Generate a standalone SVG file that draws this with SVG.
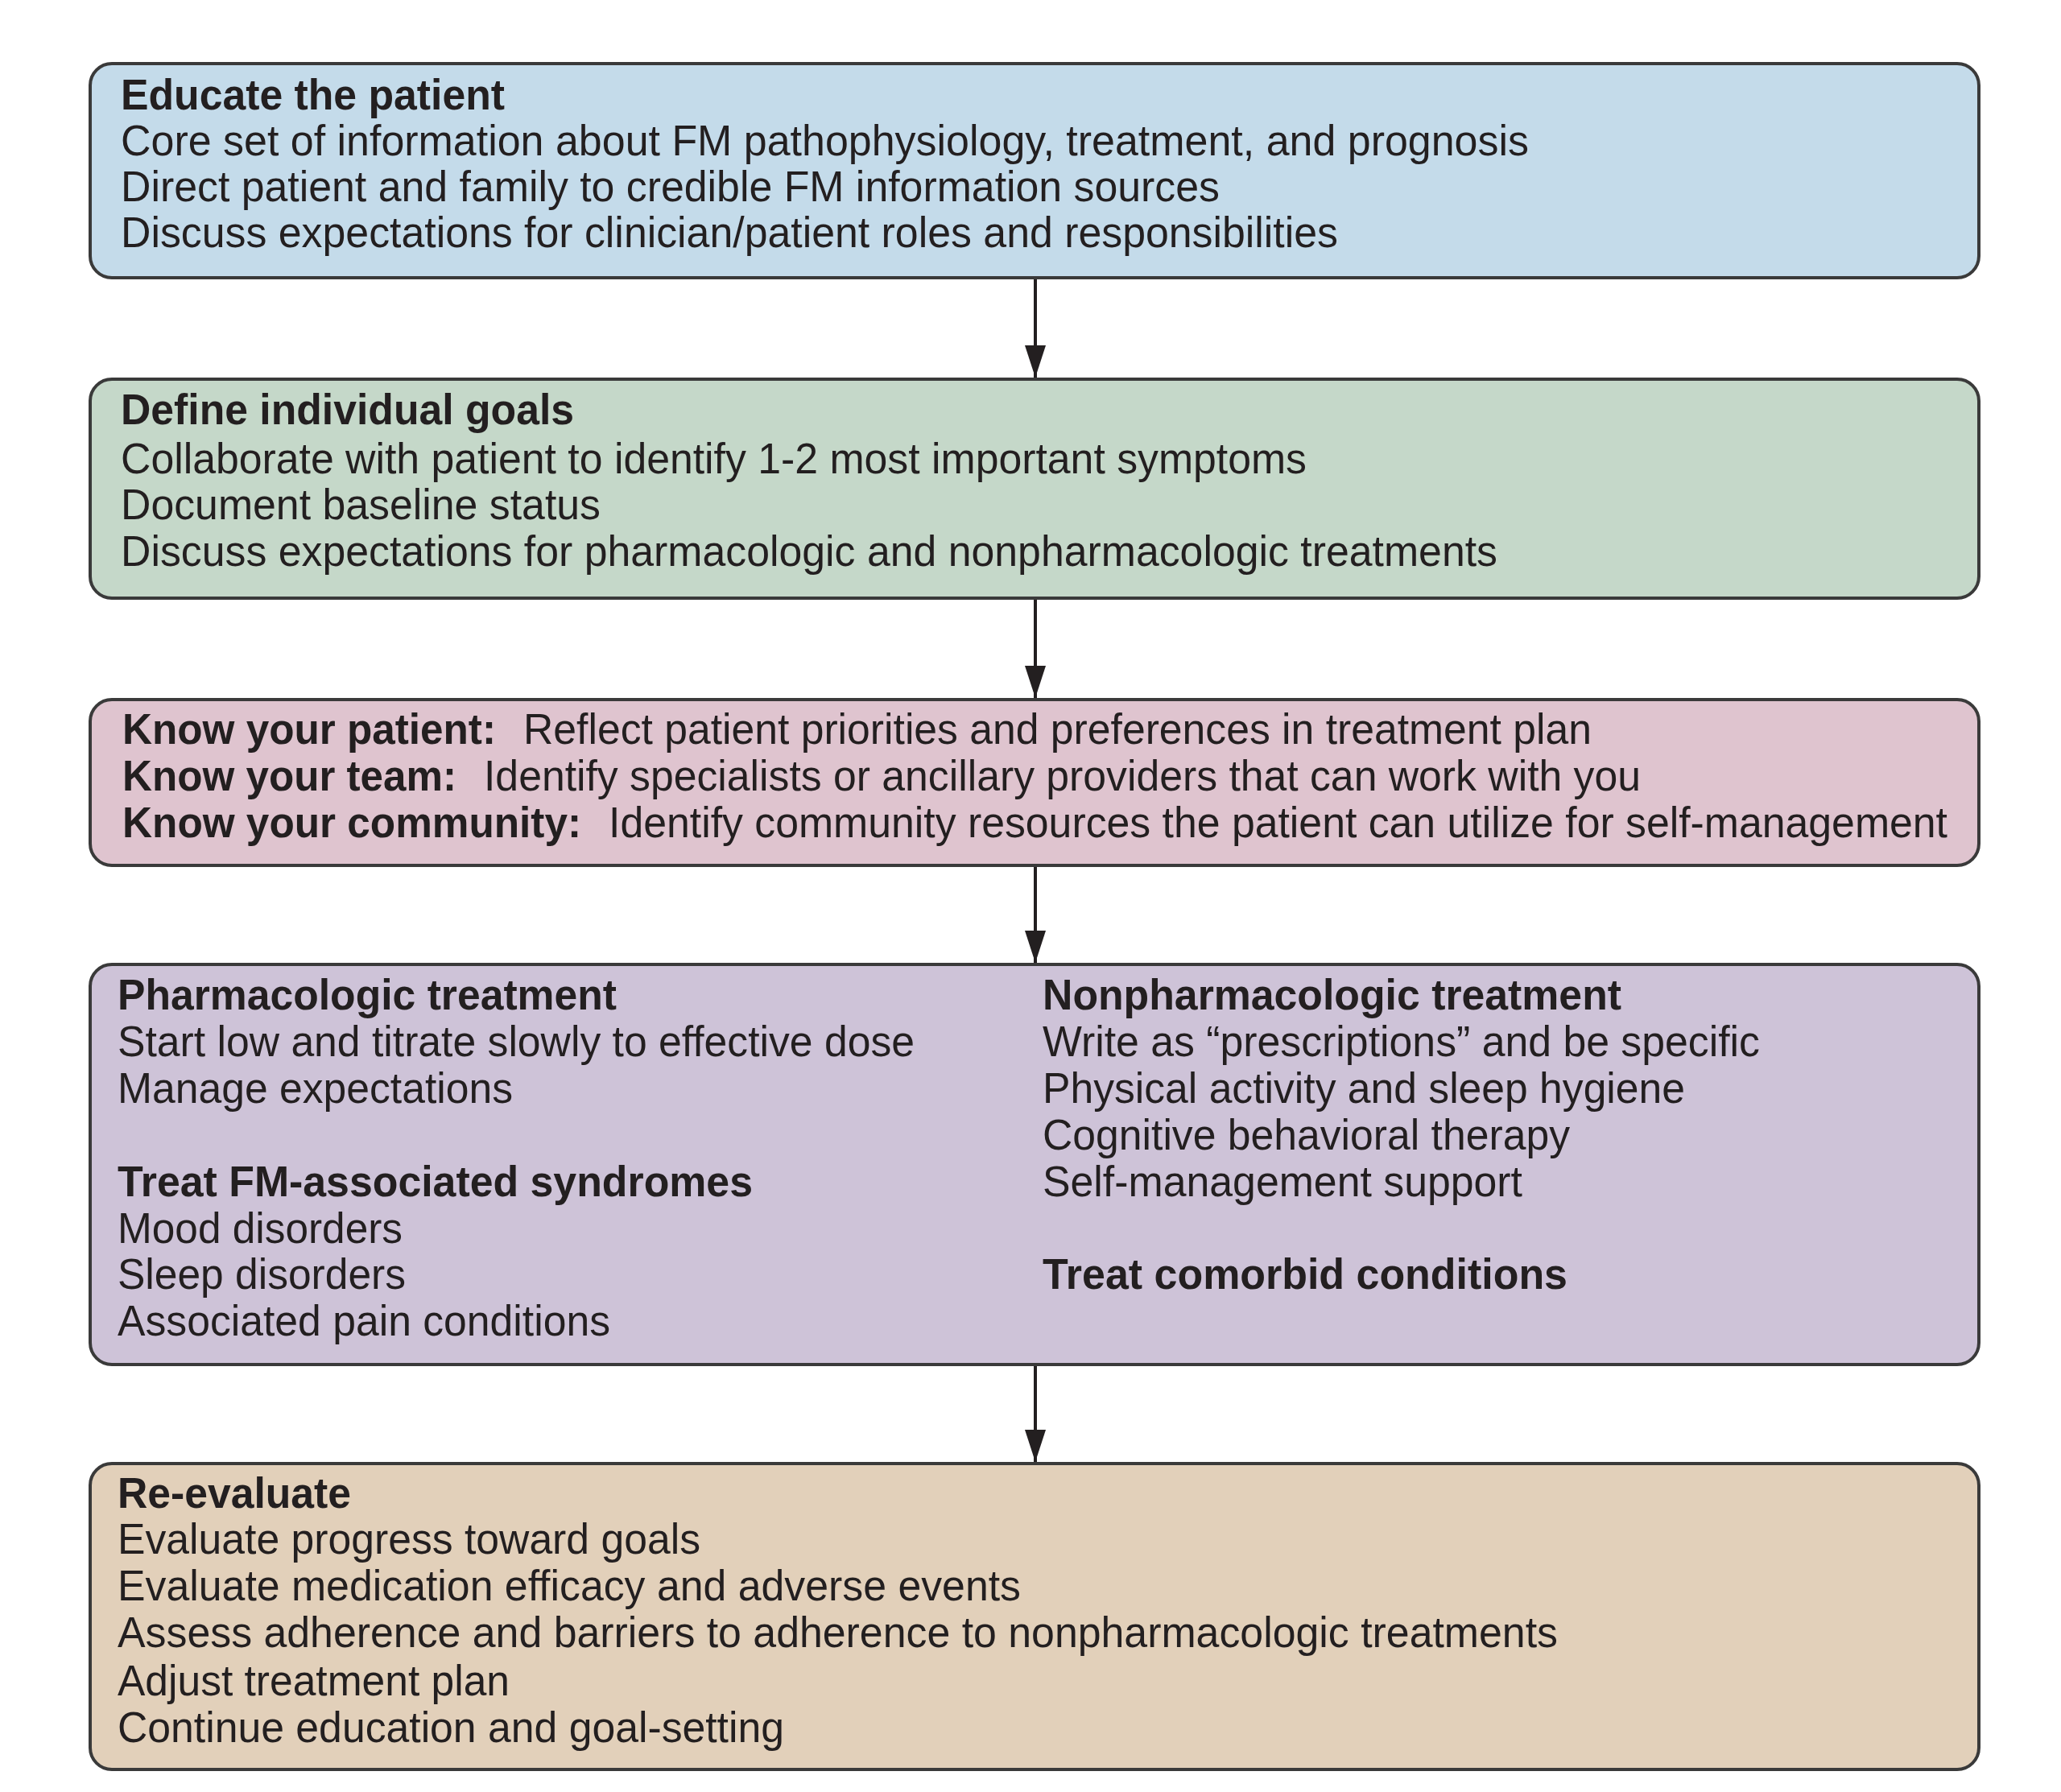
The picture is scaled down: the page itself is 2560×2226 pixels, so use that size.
<svg xmlns="http://www.w3.org/2000/svg" width="2560" height="2226" viewBox="0 0 2560 2226">
<style>
.box{stroke:#3a3a3a;stroke-width:4}
.t{font-family:"Liberation Sans",Arial,sans-serif;font-size:54px;fill:#231f20}
.b{font-weight:bold}
.conn{stroke:#231f20;stroke-width:4;fill:none}
</style>
<defs>
<marker id="ah" viewBox="0 0 40 26" refX="40" refY="13" markerWidth="40" markerHeight="26" markerUnits="userSpaceOnUse" orient="auto">
<path d="M0,0 L40,13 L0,26 z" fill="#231f20"/>
</marker>
</defs>
<rect width="2560" height="2226" fill="#ffffff"/>
<g id="connectors">
<line class="conn" x1="1286" y1="347" x2="1286" y2="469" marker-end="url(#ah)"/>
<line class="conn" x1="1286" y1="745" x2="1286" y2="867" marker-end="url(#ah)"/>
<line class="conn" x1="1286" y1="1077" x2="1286" y2="1196" marker-end="url(#ah)"/>
<line class="conn" x1="1286" y1="1697" x2="1286" y2="1816" marker-end="url(#ah)"/>
</g>
<g id="educate">
<rect class="box" x="112" y="79" width="2346" height="266" rx="27" fill="#c4dbea"/>
<text class="t b" x="150" y="136" textLength="477" lengthAdjust="spacingAndGlyphs">Educate the patient</text>
<text class="t" x="150" y="193" textLength="1749" lengthAdjust="spacingAndGlyphs">Core set of information about FM pathophysiology, treatment, and prognosis</text>
<text class="t" x="150" y="250" textLength="1365" lengthAdjust="spacingAndGlyphs">Direct patient and family to credible FM information sources</text>
<text class="t" x="150" y="307" textLength="1512" lengthAdjust="spacingAndGlyphs">Discuss expectations for clinician/patient roles and responsibilities</text>
</g>
<g id="goals">
<rect class="box" x="112" y="471" width="2346" height="272" rx="27" fill="#c5d8c9"/>
<text class="t b" x="150" y="527" textLength="563" lengthAdjust="spacingAndGlyphs">Define individual goals</text>
<text class="t" x="150" y="588" textLength="1473" lengthAdjust="spacingAndGlyphs">Collaborate with patient to identify 1-2 most important symptoms</text>
<text class="t" x="150" y="645" textLength="596" lengthAdjust="spacingAndGlyphs">Document baseline status</text>
<text class="t" x="150" y="703" textLength="1710" lengthAdjust="spacingAndGlyphs">Discuss expectations for pharmacologic and nonpharmacologic treatments</text>
</g>
<g id="know">
<rect class="box" x="112" y="869" width="2346" height="206" rx="27" fill="#dfc4cf"/>
<text class="t b" x="152" y="924" textLength="464" lengthAdjust="spacingAndGlyphs">Know your patient:</text>
<text class="t" x="650" y="924" textLength="1327" lengthAdjust="spacingAndGlyphs">Reflect patient priorities and preferences in treatment plan</text>
<text class="t b" x="152" y="982" textLength="415" lengthAdjust="spacingAndGlyphs">Know your team:</text>
<text class="t" x="601" y="982" textLength="1437" lengthAdjust="spacingAndGlyphs">Identify specialists or ancillary providers that can work with you</text>
<text class="t b" x="152" y="1040" textLength="570" lengthAdjust="spacingAndGlyphs">Know your community:</text>
<text class="t" x="756" y="1040" textLength="1663" lengthAdjust="spacingAndGlyphs">Identify community resources the patient can utilize for self-management</text>
</g>
<g id="treatment">
<rect class="box" x="112" y="1198" width="2346" height="497" rx="27" fill="#cec3d8"/>
<text class="t b" x="146" y="1254" textLength="620" lengthAdjust="spacingAndGlyphs">Pharmacologic treatment</text>
<text class="t" x="146" y="1312" textLength="990" lengthAdjust="spacingAndGlyphs">Start low and titrate slowly to effective dose</text>
<text class="t" x="146" y="1370" textLength="491" lengthAdjust="spacingAndGlyphs">Manage expectations</text>
<text class="t b" x="146" y="1486" textLength="789" lengthAdjust="spacingAndGlyphs">Treat FM-associated syndromes</text>
<text class="t" x="146" y="1544" textLength="354" lengthAdjust="spacingAndGlyphs">Mood disorders</text>
<text class="t" x="146" y="1601" textLength="358" lengthAdjust="spacingAndGlyphs">Sleep disorders</text>
<text class="t" x="146" y="1659" textLength="612" lengthAdjust="spacingAndGlyphs">Associated pain conditions</text>
<text class="t b" x="1295" y="1254" textLength="719" lengthAdjust="spacingAndGlyphs">Nonpharmacologic treatment</text>
<text class="t" x="1295" y="1312" textLength="891" lengthAdjust="spacingAndGlyphs">Write as “prescriptions” and be specific</text>
<text class="t" x="1295" y="1370" textLength="798" lengthAdjust="spacingAndGlyphs">Physical activity and sleep hygiene</text>
<text class="t" x="1295" y="1428" textLength="655" lengthAdjust="spacingAndGlyphs">Cognitive behavioral therapy</text>
<text class="t" x="1295" y="1486" textLength="596" lengthAdjust="spacingAndGlyphs">Self-management support</text>
<text class="t b" x="1295" y="1601" textLength="652" lengthAdjust="spacingAndGlyphs">Treat comorbid conditions</text>
</g>
<g id="reevaluate">
<rect class="box" x="112" y="1818" width="2346" height="380" rx="27" fill="#e2d0ba"/>
<text class="t b" x="146" y="1873" textLength="290" lengthAdjust="spacingAndGlyphs">Re-evaluate</text>
<text class="t" x="146" y="1930" textLength="724" lengthAdjust="spacingAndGlyphs">Evaluate progress toward goals</text>
<text class="t" x="146" y="1988" textLength="1122" lengthAdjust="spacingAndGlyphs">Evaluate medication efficacy and adverse events</text>
<text class="t" x="146" y="2046" textLength="1789" lengthAdjust="spacingAndGlyphs">Assess adherence and barriers to adherence to nonpharmacologic treatments</text>
<text class="t" x="146" y="2106" textLength="487" lengthAdjust="spacingAndGlyphs">Adjust treatment plan</text>
<text class="t" x="146" y="2164" textLength="828" lengthAdjust="spacingAndGlyphs">Continue education and goal-setting</text>
</g>
</svg>
